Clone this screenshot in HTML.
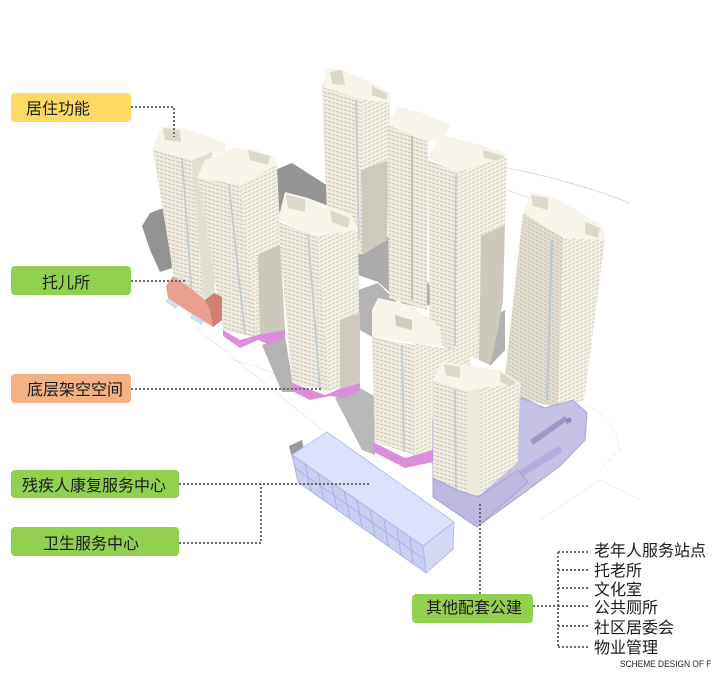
<!DOCTYPE html>
<html><head><meta charset="utf-8"><style>
html,body{margin:0;padding:0;background:#fff;}
svg{display:block;}
text{font-family:"Liberation Sans","Noto Sans CJK SC",sans-serif;fill:#1a1a1a;}
</style></head><body>
<svg width="715" height="681" viewBox="0 0 715 681" xmlns="http://www.w3.org/2000/svg">
<defs>
<pattern id="wl" width="4" height="4" patternUnits="userSpaceOnUse" patternTransform="skewY(16)">
<rect width="4" height="4" fill="#efebe0"/><rect y="2.6" width="3.2" height="1" fill="#c6c1b2"/></pattern>
<pattern id="wr" width="4" height="4" patternUnits="userSpaceOnUse" patternTransform="skewY(-25)">
<rect width="4" height="4" fill="#f3f0e5"/><rect y="2.6" width="3.2" height="1" fill="#cdc8b9"/></pattern>
<pattern id="wls" width="4" height="4" patternUnits="userSpaceOnUse" patternTransform="skewY(28)">
<rect width="4" height="4" fill="#e2ded1"/><rect y="2.6" width="3.2" height="1" fill="#c3bead"/></pattern>
</defs>
<rect width="715" height="681" fill="#fff"/>

<!-- faint ground lines -->
<path d="M507,168 Q570,180 630,203" stroke="#d9dde2" stroke-width="1" fill="none"/>
<path d="M507,190 L535,200" stroke="#e3e3e3" stroke-width="1" fill="none"/>
<path d="M195,327 L325,432" stroke="#ececec" stroke-width="1" fill="none"/>
<path d="M233,360 Q270,370 300,385" stroke="#eeeeee" stroke-width="1" fill="none"/>
<path d="M587,405 Q615,420 620,450 L600,470" stroke="#ececec" stroke-width="1" fill="none" stroke-dasharray="4 3"/>
<path d="M540,520 L600,480 L640,500" stroke="#f0f0f0" stroke-width="1" fill="none"/>

<!-- ground shadows -->
<polygon points="142,226 150,213 166,207 172,268 160,272 150,250" fill="#939393"/>
<polygon points="275,170 292,163 328,186 327,206 302,214 278,212" fill="#959595"/>
<polygon points="356,240 392,236 432,288 432,305 405,306 378,282 358,275" fill="#ababab"/>
<polygon points="262,345 285,336 294,392 282,392" fill="#b3b3b3"/>
<polygon points="335,398 360,388 374,396 375,455 362,450" fill="#b8b8b8"/>
<polygon points="486,320 505,310 505,350 490,366" fill="#b2b2b2"/>
<polygon points="289,446 302,440 305,455 292,458" fill="#9a9a9a"/>
<polygon points="358,290 378,283 400,305 372,337 360,330" fill="#b4b4b4"/>

<!-- T_top -->
<polygon points="322,87 327,68 343,70 392,93 390,103 360,99" fill="#f7f4ea"/>
<polygon points="330,72 342,70 345,85 332,84" fill="#dcd8ca"/>
<polygon points="372,86 388,94 386,100 372,95" fill="#dcd8ca"/>
<polygon points="322,87 360,99 362,255 328,240" fill="url(#wl)"/>
<polygon points="360,99 390,103 389,160 361,170" fill="url(#wr)"/>
<polygon points="361,170 389,160 387,240 362,255" fill="#cdc9bc"/>
<line x1="356" y1="100" x2="359" y2="240" stroke="#bccbd0" stroke-width="1.5"/>

<!-- T_mid A -->
<polygon points="387,125 398,107 420,112 450,125 445,138 428,142" fill="#f7f4ea"/>
<polygon points="387,125 428,142 427,310 389,298" fill="url(#wl)"/>
<line x1="412" y1="136" x2="412" y2="300" stroke="#c4c0b2" stroke-width="2"/>
<!-- T_mid B -->
<polygon points="428,158 440,135 470,142 505,153 507,160 458,172" fill="#f7f4ea"/>
<polygon points="483,150 504,156 503,162 484,158" fill="#dcd8ca"/>
<polygon points="428,160 458,172 456,352 430,340" fill="url(#wl)"/>
<polygon points="458,172 507,157 505,225 481,236 479,360 456,352" fill="url(#wr)"/>
<polygon points="481,236 505,225 503,300 498,330 490,365 479,360" fill="#ccc8bb"/>
<line x1="456" y1="175" x2="455" y2="345" stroke="#b9c9cf" stroke-width="1.5"/>

<!-- T_right -->
<polygon points="523,213 531,192 556,198 603,226 605,240 563,238" fill="#f7f4ea"/>
<polygon points="531,195 548,198 548,210 533,206" fill="#dcd8ca"/>
<polygon points="585,222 600,228 598,238 585,234" fill="#dcd8ca"/>
<polygon points="523,213 563,238 558,408 503,394" fill="url(#wls)"/>
<polygon points="563,238 605,240 584,400 558,408" fill="url(#wr)"/>
<line x1="552" y1="240" x2="547" y2="400" stroke="#b9c9cf" stroke-width="2"/>

<!-- T1 -->
<polygon points="152,150 162,127 183,128 226,143 225,152 192,160" fill="#f7f4ea"/>
<polygon points="163,128 180,130 181,142 165,140" fill="#dcd8ca"/>
<polygon points="153,150 192,160 204,302 176,290" fill="url(#wl)"/>
<polygon points="192,160 212,152 215,295 204,302" fill="#e2ded1"/>
<line x1="182" y1="158" x2="192" y2="295" stroke="#bccbd0" stroke-width="1.5"/>

<!-- T2 -->
<polygon points="197,178 205,160 235,148 255,150 277,158 277,167 240,185" fill="#f7f4ea"/>
<polygon points="248,150 270,156 268,165 250,160" fill="#dcd8ca"/>
<polygon points="198,178 240,185 258,338 223,330" fill="url(#wl)"/>
<polygon points="240,185 277,165 285,330 258,338" fill="url(#wr)"/>
<polygon points="258,255 280,245 285,330 260,338" fill="#ccc8bb"/>
<line x1="229" y1="185" x2="245" y2="335" stroke="#bccbd0" stroke-width="1.5"/>
<polygon points="223,330 240,340 258,335 285,330 285,337 270,345 258,340 240,348 223,336" fill="#dd8ddc"/>

<!-- daycare -->
<polygon points="166,286 173,276 190,288 205,300 214,293 222,297 222,320 213,327 205,322 178,305 168,298" fill="#e9a092"/>
<polygon points="205,300 214,293 222,297 222,320 213,327 210,310" fill="#cf7f74"/>
<polygon points="168,298 178,305 176,309 166,302" fill="#c9def0"/>
<polygon points="192,314 204,321 202,325 190,318" fill="#c9def0"/>

<!-- T3 -->
<polygon points="278,220 285,192 308,198 352,215 358,230 317,236" fill="#f7f4ea"/>
<polygon points="286,195 305,199 305,212 288,208" fill="#dcd8ca"/>
<polygon points="330,210 350,218 348,228 332,222" fill="#dcd8ca"/>
<polygon points="278,222 317,236 330,392 292,383" fill="url(#wl)"/>
<polygon points="317,236 358,230 360,383 330,392" fill="url(#wr)"/>
<polygon points="340,320 360,313 360,383 340,390" fill="#cdc9bc"/>
<line x1="308" y1="234" x2="320" y2="388" stroke="#bccbd0" stroke-width="1.5"/>
<polygon points="292,383 325,395 340,389 360,383 360,390 345,398 330,396 310,400 292,391" fill="#dd8ddc"/>

<!-- front back tower -->
<polygon points="372,310 378,298 410,305 440,327 442,346 413,343 372,337" fill="#f7f4ea"/>
<polygon points="395,315 412,320 412,330 396,326" fill="#cfcbbd"/>
<polygon points="413,343 470,352 472,445 433,465 415,455" fill="url(#wr)"/>
<polygon points="372,337 413,345 415,455 375,442" fill="url(#wl)"/>
<line x1="402" y1="345" x2="404" y2="452" stroke="#bccbd0" stroke-width="1.5"/>
<polygon points="373,442 405,458 433,450 433,462 405,468 374,452" fill="#dd8ddc"/>

<!-- purple podium -->
<polygon points="433,420 433,497 477,527 525,492 560,466 585,440 587,413 573,400 545,408 522,398 505,410" fill="#c5c1e3" stroke="#aaa5d0" stroke-width="1"/>
<polygon points="530,440 565,416 568,420 533,445" fill="#9d98c6"/>
<polygon points="520,470 560,445 562,452 522,477" fill="#b2addb"/>
<polygon points="565,420 570,417 572,421 567,424" fill="#8f8abd"/>

<!-- front tower -->
<polygon points="433,380 442,362 500,370 521,384 518,392 480,388 467,392" fill="#f7f4ea"/>
<polygon points="444,364 460,367 460,378 446,375" fill="#dcd8ca"/>
<polygon points="500,372 516,382 514,388 500,382" fill="#dcd8ca"/>
<polygon points="433,380 467,392 467,497 433,485" fill="url(#wl)"/>
<polygon points="467,392 480,388 480,495 467,497" fill="#ece8db"/>
<polygon points="480,388 520,384 518,462 480,495" fill="url(#wr)"/>
<line x1="455" y1="390" x2="456" y2="492" stroke="#bccbd0" stroke-width="1.5"/>
<polygon points="433,478 457,490 478,497 518,470 528,482 477,527 433,497" fill="#bdb8dd" stroke="#a7a2cf" stroke-width="1"/>

<!-- blue building -->
<polygon points="292,455 327,432 454,522 423,546" fill="#dce2fb" stroke="#b9c0ea" stroke-width="1"/>
<polygon points="292,455 423,546 426,573 298,482" fill="#c8cef2" stroke="#aeb5e4" stroke-width="1"/>
<polygon points="423,546 454,522 453,549 426,573" fill="#d3d9f7" stroke="#b3bae6" stroke-width="1"/>
<g stroke="#a9b0e0" stroke-width="1">
<line x1="305" y1="464" x2="311" y2="491"/><line x1="318" y1="473" x2="324" y2="500"/>
<line x1="331" y1="482" x2="337" y2="509"/><line x1="344" y1="491" x2="350" y2="518"/>
<line x1="357" y1="500" x2="362" y2="527"/><line x1="370" y1="509" x2="375" y2="536"/>
<line x1="384" y1="519" x2="388" y2="546"/><line x1="397" y1="528" x2="401" y2="555"/>
<line x1="410" y1="537" x2="413" y2="564"/>
<line x1="295" y1="468" x2="424" y2="559"/>
</g>

<!-- dotted connectors -->
<g stroke="#6b6b6b" stroke-width="2" stroke-dasharray="2 2" fill="none">
<path d="M131,107 H174 V137"/>
<path d="M131,281 H186"/>
<path d="M131,389 H322"/>
<path d="M179,484 H370"/>
<path d="M179,543 H261 V484"/>
<path d="M480,504 V594"/>
<path d="M533,606 H558"/>
<path d="M558,552 V647"/>
<path d="M558,552 H588"/><path d="M558,570 H588"/><path d="M558,588 H588"/>
<path d="M558,606 H588"/><path d="M558,626 H588"/><path d="M558,647 H588"/>
</g>

<!-- label boxes -->
<rect x="11" y="93" width="120" height="29" rx="4" fill="#ffd966"/>
<text x="26" y="114" font-size="16">居住功能</text>
<rect x="11" y="266" width="120" height="29" rx="4" fill="#92d050"/>
<text x="42" y="288" font-size="16">托儿所</text>
<rect x="11" y="374" width="120" height="29" rx="4" fill="#f4b183"/>
<text x="27" y="395" font-size="16">底层架空空间</text>
<rect x="11" y="470" width="168" height="28" rx="4" fill="#92d050"/>
<text x="22" y="491" font-size="16">残疾人康复服务中心</text>
<rect x="11" y="527" width="168" height="29" rx="4" fill="#92d050"/>
<text x="43" y="549" font-size="16">卫生服务中心</text>
<rect x="412" y="594" width="121" height="29" rx="4" fill="#92d050"/>
<text x="426" y="613" font-size="16">其他配套公建</text>

<text x="594" y="556" font-size="16">老年人服务站点</text>
<text x="594" y="576" font-size="16">托老所</text>
<text x="594" y="595" font-size="16">文化室</text>
<text x="594" y="613" font-size="16">公共厕所</text>
<text x="594" y="633" font-size="16">社区居委会</text>
<text x="594" y="653" font-size="16">物业管理</text>
<text transform="translate(620,667) scale(0.88,1)" font-size="9.5" style="fill:#222">SCHEME DESIGN OF F</text>
</svg>
</body></html>
